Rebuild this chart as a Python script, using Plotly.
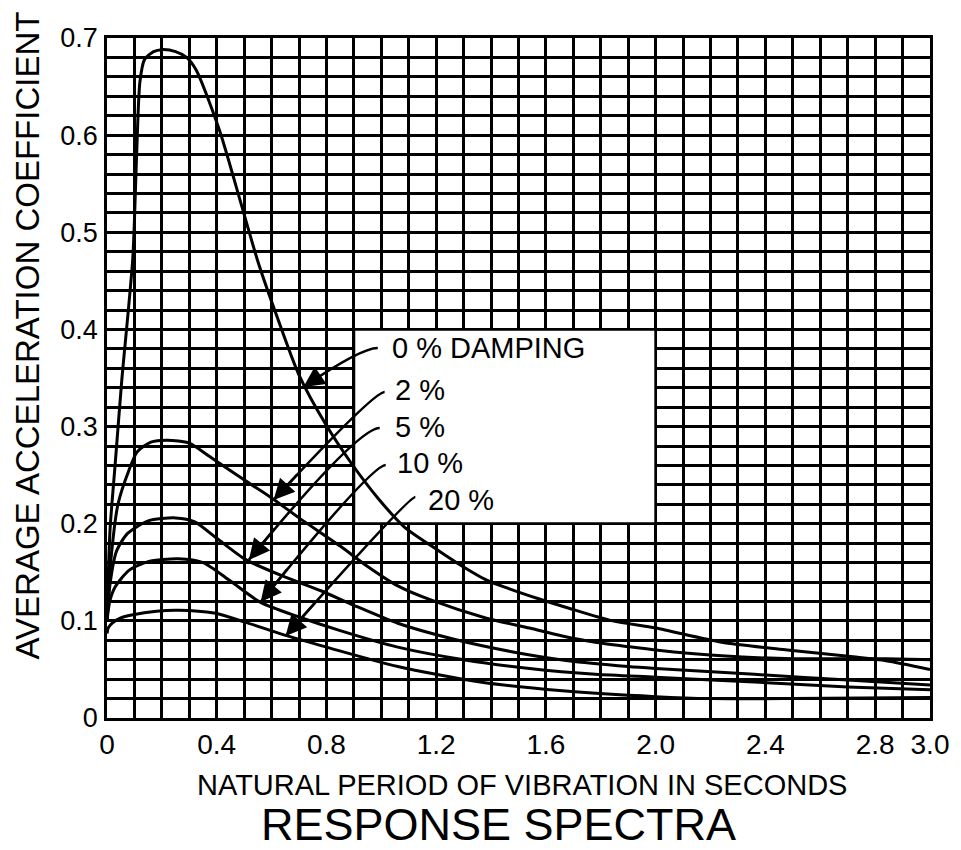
import plotly.graph_objects as go

# ---------------- data ----------------
x_0 = [0, 0.011, 0.03, 0.054, 0.094, 0.108, 0.12, 0.137, 0.17, 0.2, 0.25, 0.29, 0.325,
       0.41, 0.48, 0.55, 0.62, 0.7, 0.8, 0.89, 0.987, 1.084, 1.178, 1.276, 1.384,
       1.467, 1.576, 1.684, 1.843, 2.0, 2.24, 2.48, 2.72, 2.84, 3.0]
y_0 = [0.10, 0.1935, 0.262, 0.348, 0.4735, 0.58, 0.655, 0.678, 0.686, 0.688, 0.686, 0.680,
       0.667, 0.605, 0.538, 0.47, 0.413, 0.353, 0.301, 0.2625, 0.2265, 0.1966, 0.178,
       0.1596, 0.142, 0.133, 0.1225, 0.113, 0.1, 0.0926, 0.078, 0.070, 0.063, 0.059, 0.050]

x_2 = [0, 0.015, 0.04, 0.08, 0.11, 0.16, 0.22, 0.3, 0.37, 0.49, 0.6, 0.7, 0.85, 0.95,
       1.06, 1.18, 1.38, 1.54, 1.66, 1.78, 1.9, 2.0, 2.24, 2.5, 2.84, 3.0]
y_2 = [0.10, 0.165, 0.22, 0.255, 0.274, 0.284, 0.286, 0.283, 0.27, 0.247, 0.2265, 0.206,
       0.177, 0.156, 0.136, 0.1215, 0.103, 0.0926, 0.0845, 0.078, 0.0735, 0.070, 0.064,
       0.061, 0.061, 0.060]

x_5 = [0, 0.012, 0.035, 0.075, 0.15, 0.25, 0.32, 0.4, 0.506, 0.65, 0.78, 0.9, 1.06,
       1.265, 1.48, 1.68, 1.9, 2.0, 2.36, 2.7, 3.0]
y_5 = [0.10, 0.14, 0.172, 0.19, 0.203, 0.206, 0.202, 0.185, 0.163, 0.145, 0.131, 0.116,
       0.0975, 0.081, 0.068, 0.059, 0.053, 0.051, 0.045, 0.039, 0.034]

x_10 = [0, 0.01, 0.03, 0.08, 0.15, 0.26, 0.35, 0.45, 0.56, 0.7, 0.85, 1.06, 1.3, 1.54,
        1.78, 2.0, 2.36, 2.7, 3.0]
y_10 = [0.10, 0.12, 0.135, 0.152, 0.161, 0.164, 0.160, 0.141, 0.119, 0.104, 0.090, 0.073,
        0.060, 0.051, 0.045, 0.042, 0.037, 0.032, 0.029]

x_20 = [0, 0.005, 0.02, 0.05, 0.09, 0.18, 0.26, 0.39, 0.5, 0.651, 0.8, 1.06, 1.36, 1.66,
        2.0, 2.2, 2.5, 3.0]
y_20 = [0.087, 0.093, 0.098, 0.103, 0.106, 0.110, 0.111, 0.108, 0.099, 0.085, 0.073,
        0.053, 0.037, 0.028, 0.022, 0.020, 0.020, 0.021]

series_x = [x_0, x_2, x_5, x_10, x_20]
series_y = [y_0, y_2, y_5, y_10, y_20]
series_names = ["0 % DAMPING", "2 %", "5 %", "10 %", "20 %"]

x_tick_vals = [0, 0.4, 0.8, 1.2, 1.6, 2.0, 2.4, 2.8, 3.0]
x_tick_text = ["0", "0.4", "0.8", "1.2", "1.6", "2.0", "2.4", "2.8", "3.0"]
y_tick_vals = [0, 0.1, 0.2, 0.3, 0.4, 0.5, 0.6, 0.7]
y_tick_text = ["0", "0.1", "0.2", "0.3", "0.4", "0.5", "0.6", "0.7"]

# label placement (left edge x, centre y) and arrows (start, control, tip)
label_x = [1.03, 1.041, 1.041, 1.048, 1.164]
label_y = [0.381, 0.338, 0.2996, 0.2625, 0.2244]
arrow_start = [(0.987, 0.3809), (1.012, 0.3356), (0.994, 0.2985), (1.016, 0.2605), (1.124, 0.2275)]
arrow_ctrl = [(0.925, 0.3809), (0.972, 0.3356), (0.914, 0.2985), (0.965, 0.2605), (1.099, 0.2275)]
arrow_tip = [(0.716, 0.3407), (0.607, 0.2244), (0.517, 0.1627), (0.560, 0.1194), (0.651, 0.0844)]

label_box = dict(x0=0.9, x1=2.0, y0=0.2, y1=0.4)

FONT = "Liberation Sans, Arial, sans-serif"
GRID_W = 2.7

fig = go.Figure()
for xs, ys, nm in zip(series_x, series_y, series_names):
    fig.add_trace(go.Scatter(x=xs, y=ys, mode="lines", name=nm,
                             line=dict(color="black", width=3, shape="spline", smoothing=0.7),
                             showlegend=False, hoverinfo="skip"))

shapes = [dict(type="rect", xref="x", yref="y", layer="between",
               fillcolor="white", line=dict(color="black", width=GRID_W), **label_box)]
annotations = []
for (sx, sy), (cx, cy), (tx, ty) in zip(arrow_start, arrow_ctrl, arrow_tip):
    shapes.append(dict(type="path", xref="x", yref="y", layer="above",
                       path=f"M {sx},{sy} Q {cx},{cy} {tx},{ty}",
                       line=dict(color="black", width=2.6)))
    bx = tx + 0.25 * (cx - tx)
    by = ty + 0.25 * (cy - ty)
    annotations.append(dict(x=tx, y=ty, ax=bx, ay=by, xref="x", yref="y",
                            axref="x", ayref="y", text="", showarrow=True,
                            arrowhead=2, arrowsize=1.6, arrowwidth=2.6,
                            arrowcolor="black", standoff=0))

for nm, lx, ly in zip(series_names, label_x, label_y):
    annotations.append(dict(x=lx, y=ly, xref="x", yref="y", text=nm, showarrow=False,
                            xanchor="left", yanchor="middle",
                            font=dict(family=FONT, size=29, color="black")))

annotations += [
    dict(text="AVERAGE ACCELERATION COEFFICIENT", xref="paper", yref="paper",
         x=-0.0964, y=0.562, textangle=-90, showarrow=False,
         xanchor="center", yanchor="middle",
         font=dict(family=FONT, size=33, color="black")),
    dict(text="NATURAL PERIOD OF VIBRATION IN SECONDS", xref="paper", yref="paper",
         x=0.504, y=-0.099, showarrow=False, xanchor="center", yanchor="middle",
         font=dict(family=FONT, size=29, color="black")),
    dict(text="RESPONSE SPECTRA", xref="paper", yref="paper",
         x=0.476, y=-0.156, showarrow=False, xanchor="center", yanchor="middle",
         font=dict(family=FONT, size=45, color="black")),
]

# the page body adds an 8 px offset, so the figure is 8 px smaller and margins shifted
fig.update_layout(
    width=953, height=842,
    margin=dict(l=99, r=24, t=30, b=132),
    paper_bgcolor="white", plot_bgcolor="white",
    shapes=shapes, annotations=annotations,
    font=dict(family=FONT, color="black"),
    xaxis=dict(range=[0, 3.0], tickmode="array", tickvals=x_tick_vals, ticktext=x_tick_text,
               showgrid=True, gridcolor="black", gridwidth=GRID_W,
               minor=dict(dtick=0.1, tick0=0, showgrid=True, gridcolor="black", gridwidth=GRID_W),
               showline=True, mirror=True, linecolor="black", linewidth=GRID_W,
               zeroline=False, ticks="", ticklabelstandoff=0,
               tickfont=dict(family=FONT, size=28, color="black")),
    yaxis=dict(range=[0, 0.7], tickmode="array", tickvals=y_tick_vals, ticktext=y_tick_text,
               showgrid=True, gridcolor="black", gridwidth=GRID_W,
               minor=dict(dtick=0.02, tick0=0, showgrid=True, gridcolor="black", gridwidth=GRID_W),
               showline=True, mirror=True, linecolor="black", linewidth=GRID_W,
               zeroline=False, ticks="", ticklabelstandoff=1,
               tickfont=dict(family=FONT, size=27, color="black")),
)

fig.write_html("out.html")
